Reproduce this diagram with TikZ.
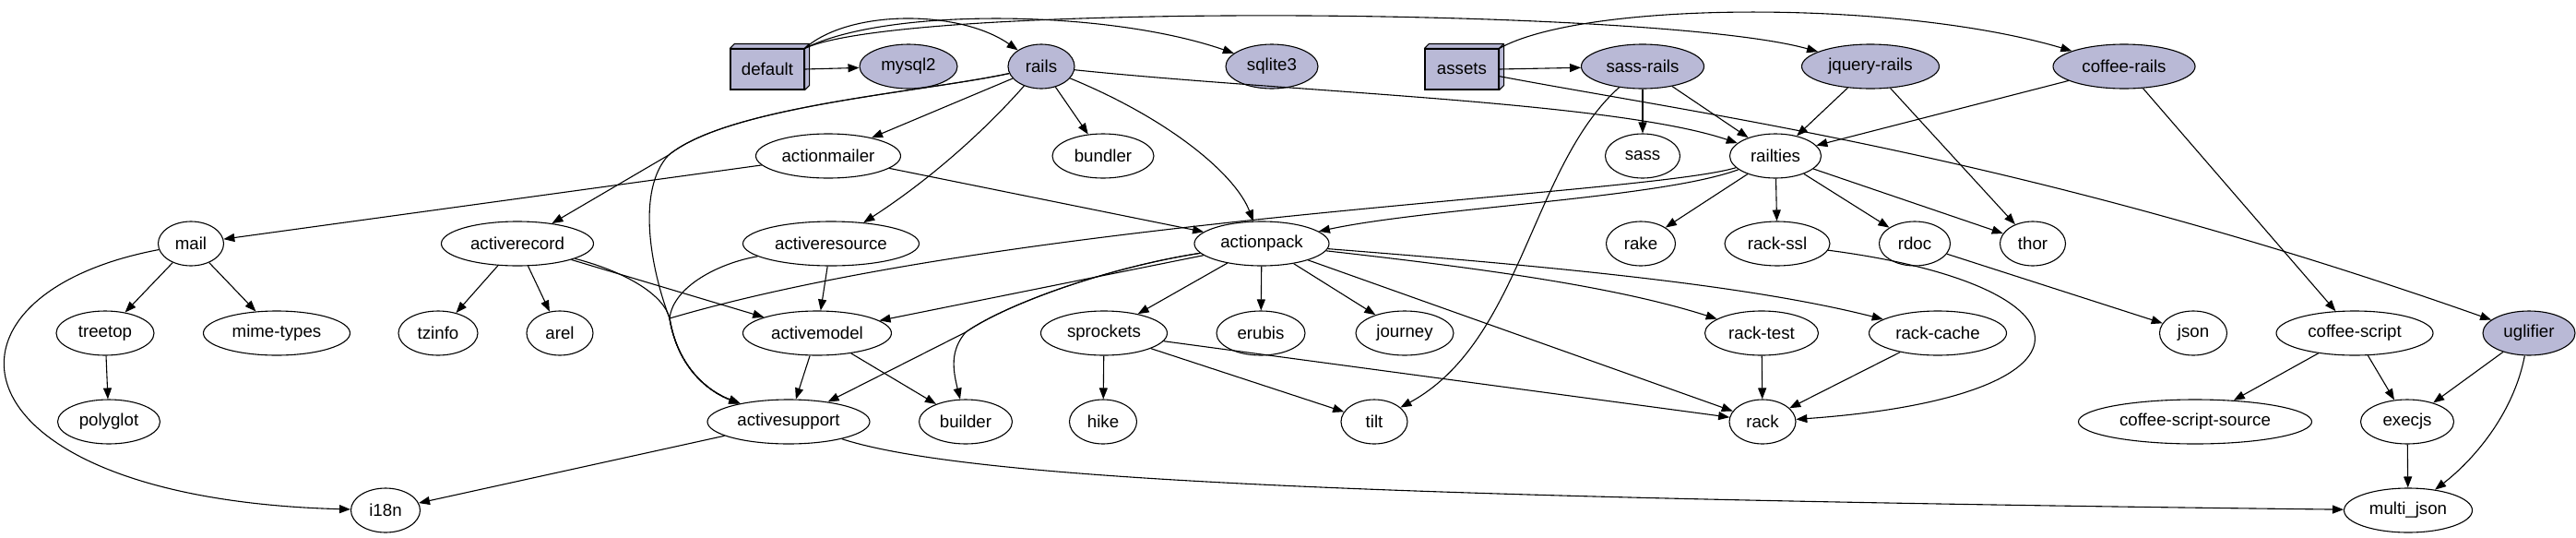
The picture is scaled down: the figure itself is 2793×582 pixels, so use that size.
\documentclass[tikz,border=0pt]{standalone}
\usepackage{fontspec}
\setmainfont{Liberation Sans}
\usetikzlibrary{arrows.meta,shapes.geometric,calc}
\definecolor{gemfill}{RGB}{185,185,214}

\begin{document}
\begin{tikzpicture}[x=1pt, y=-1pt, >={Triangle[length=12pt,width=9pt]},
    gem/.style={ellipse, draw, line width=1.1pt, minimum height=48pt, inner sep=0pt, font=\fontsize{18.7}{22}\selectfont},
    topgem/.style={gem, fill=gemfill},
    grp/.style={rectangle, draw, fill=gemfill, line width=1.1pt, minimum width=80pt, minimum height=44pt, inner sep=0pt, font=\fontsize{18.7}{22}\selectfont},
    boxface/.style={draw, fill=gemfill, line width=1.1pt, line join=round},
    dep/.style={->, line width=1.1pt}]

\useasboundingbox (0,0) rectangle (2793,582);

% groups
\node[grp] (default) at (832,75) {default};
\node[grp] (assets) at (1585,75) {assets};
\draw[boxface] (default.north west) -- ++(5,-5) -- ($(default.north east)+(5,-5)$) -- ($(default.south east)+(5,-5)$) -- (default.south east) -- (default.north east) -- cycle;
\draw[boxface] (default.north east) -- ++(5,-5);
\draw[boxface] (assets.north west) -- ++(5,-5) -- ($(assets.north east)+(5,-5)$) -- ($(assets.south east)+(5,-5)$) -- (assets.south east) -- (assets.north east) -- cycle;
\draw[boxface] (assets.north east) -- ++(5,-5);

% gems
\node[topgem, minimum width=106pt] (mysql2) at (985,72) {mysql2};
\node[topgem, minimum width=72pt] (rails) at (1129,72) {rails};
\node[topgem, minimum width=100pt] (sqlite3) at (1379,72) {sqlite3};
\node[topgem, minimum width=133pt] (sassrails) at (1781,72) {sass-rails};
\node[topgem, minimum width=149pt] (jqueryrails) at (2028,72) {jquery-rails};
\node[topgem, minimum width=154pt] (coffeerails) at (2303,72) {coffee-rails};

\node[gem, minimum width=157pt] (actionmailer) at (898,169) {actionmailer};
\node[gem, minimum width=110pt] (bundler) at (1196,169) {bundler};
\node[gem, minimum width=81pt] (sass) at (1781,169) {sass};
\node[gem, minimum width=99pt] (railties) at (1925,169) {railties};

\node[gem, minimum width=71pt] (mail) at (207,264) {mail};
\node[gem, minimum width=165pt] (activerecord) at (561,264) {activerecord};
\node[gem, minimum width=191pt] (activeresource) at (901,264) {activeresource};
\node[gem, minimum width=146pt] (actionpack) at (1368,264) {actionpack};
\node[gem, minimum width=75pt] (rake) at (1779,264) {rake};
\node[gem, minimum width=114pt] (rackssl) at (1927,264) {rack-ssl};
\node[gem, minimum width=77pt] (rdoc) at (2076,264) {rdoc};
\node[gem, minimum width=71pt] (thor) at (2204,264) {thor};

\node[gem, minimum width=106pt] (treetop) at (114,361) {treetop};
\node[gem, minimum width=159pt] (mimetypes) at (300,361) {mime-types};
\node[gem, minimum width=86pt] (tzinfo) at (475,361) {tzinfo};
\node[gem, minimum width=72pt] (arel) at (607,361) {arel};
\node[gem, minimum width=161pt] (activemodel) at (886,361) {activemodel};
\node[gem, minimum width=137pt] (sprockets) at (1197,361) {sprockets};
\node[gem, minimum width=96pt] (erubis) at (1367,361) {erubis};
\node[gem, minimum width=106pt] (journey) at (1523,361) {journey};
\node[gem, minimum width=123pt] (racktest) at (1910,361) {rack-test};
\node[gem, minimum width=149pt] (rackcache) at (2101,361) {rack-cache};
\node[gem, minimum width=73pt] (json) at (2378,361) {json};
\node[gem, minimum width=170pt] (coffeescript) at (2553,361) {coffee-script};
\node[topgem, minimum width=100pt] (uglifier) at (2742,361) {uglifier};

\node[gem, minimum width=111pt] (polyglot) at (118,457) {polyglot};
\node[gem, minimum width=176pt] (activesupport) at (855,457) {activesupport};
\node[gem, minimum width=101pt] (builder) at (1047,457) {builder};
\node[gem, minimum width=73pt] (hike) at (1196,457) {hike};
\node[gem, minimum width=72pt] (tilt) at (1490,457) {tilt};
\node[gem, minimum width=72pt] (rack) at (1911,457) {rack};
\node[gem, minimum width=253pt] (csource) at (2380,457) {coffee-script-source};
\node[gem, minimum width=101pt] (execjs) at (2610,457) {execjs};

\node[gem, minimum width=75pt] (i18n) at (418,553) {i18n};
\node[gem, minimum width=139pt] (multijson) at (2611,553) {multi\_json};

% merge points
\coordinate (jrec) at (725,168);
\coordinate (jsup) at (726,345);
\coordinate (jpack) at (1047,360);

\draw[dep] (default.east) -- (mysql2);
\draw[dep] (default.north east) .. controls (920,10) and (1040,10) .. (rails);
\draw[dep] (default.north east) .. controls (960,8) and (1200,10) .. (sqlite3);
\draw[dep] (default.north east) .. controls (980,2) and (1800,8) .. (jqueryrails);
\draw[dep] (assets.east) -- (sassrails);
\draw[dep] (assets.north east) .. controls (1720,0) and (2060,0) .. (coffeerails);
\draw[dep] (assets) .. controls (1850,125) and (2200,170) .. (uglifier);

\draw[dep] (rails) -- (actionmailer);
\draw[dep] (rails) -- (bundler);
\draw[dep] (rails) .. controls (1060,150) and (1000,200) .. (activeresource);
\draw[dep] (rails) .. controls (1270,130) and (1340,190) .. (actionpack);
\draw[dep] (rails) .. controls (1400,100) and (1750,110) .. (railties);
\draw[dep] (rails) .. controls (1000,100) and (790,115) .. (jrec) -- (activerecord);
\draw[dep] (rails) .. controls (1000,100) and (790,115) .. (jrec) .. controls (690,205) and (705,290) .. (jsup) .. controls (735,400) and (770,425) .. (activesupport);

\draw[dep] (actionmailer) -- (mail);
\draw[dep] (actionmailer) -- (actionpack);

\draw[dep] (activerecord) -- (tzinfo);
\draw[dep] (activerecord) -- (arel);
\draw[dep] (activerecord) -- (activemodel);
\draw[dep] (activerecord) .. controls (680,295) and (720,320) .. (jsup) .. controls (735,400) and (770,425) .. (activesupport);
\draw[dep] (activeresource) -- (activemodel);
\draw[dep] (activeresource) .. controls (780,285) and (730,310) .. (jsup) .. controls (735,400) and (770,425) .. (activesupport);
\draw[dep] (activemodel) -- (activesupport);
\draw[dep] (activemodel) -- (builder);

\draw[dep] (actionpack) -- (activemodel);
\draw[dep] (actionpack) .. controls (1200,290) and (1090,330) .. (jpack) -- (activesupport);
\draw[dep] (actionpack) .. controls (1200,290) and (1090,330) .. (jpack) .. controls (1030,380) and (1033,400) .. (builder);
\draw[dep] (actionpack) -- (sprockets);
\draw[dep] (actionpack) -- (erubis);
\draw[dep] (actionpack) -- (journey);
\draw[dep] (actionpack) -- (rack);
\draw[dep] (actionpack) .. controls (1600,290) and (1750,310) .. (racktest);
\draw[dep] (actionpack) .. controls (1700,290) and (1900,310) .. (rackcache);

\draw[dep] (railties) .. controls (1800,215) and (1550,225) .. (actionpack);
\draw[dep] (railties) .. controls (1780,212) and (1100,235) .. (jsup) .. controls (735,400) and (770,425) .. (activesupport);
\draw[dep] (railties) -- (rake);
\draw[dep] (railties) -- (rackssl);
\draw[dep] (railties) -- (rdoc);
\draw[dep] (railties) -- (thor);

\draw[dep] (sassrails) -- (sass);
\draw[dep] (sassrails) -- (railties);
\draw[dep] (sassrails) .. controls (1660,180) and (1650,370) .. (tilt);
\draw[dep] (jqueryrails) -- (railties);
\draw[dep] (jqueryrails) -- (thor);
\draw[dep] (coffeerails) -- (railties);
\draw[dep] (coffeerails) -- (coffeescript);

\draw[dep] (rackssl) .. controls (2280,310) and (2290,430) .. (rack);
\draw[dep] (rdoc) -- (json);
\draw[dep] (racktest) -- (rack);
\draw[dep] (rackcache) -- (rack);
\draw[dep] (sprockets) -- (hike);
\draw[dep] (sprockets) -- (tilt);
\draw[dep] (sprockets) -- (rack);

\draw[dep] (coffeescript) -- (csource);
\draw[dep] (coffeescript) -- (execjs);
\draw[dep] (uglifier) -- (execjs);
\draw[dep] (uglifier) .. controls (2725,450) and (2680,500) .. (multijson);
\draw[dep] (execjs) -- (multijson);

\draw[dep] (activesupport) -- (i18n);
\draw[dep] (activesupport) .. controls (1050,520) and (1500,540) .. (multijson);

\draw[dep] (mail) -- (treetop);
\draw[dep] (mail) -- (mimetypes);
\draw[dep] (treetop) -- (polyglot);
\draw[dep] (mail) .. controls (-90,320) and (-60,540) .. (i18n);

\end{tikzpicture}
\end{document}
